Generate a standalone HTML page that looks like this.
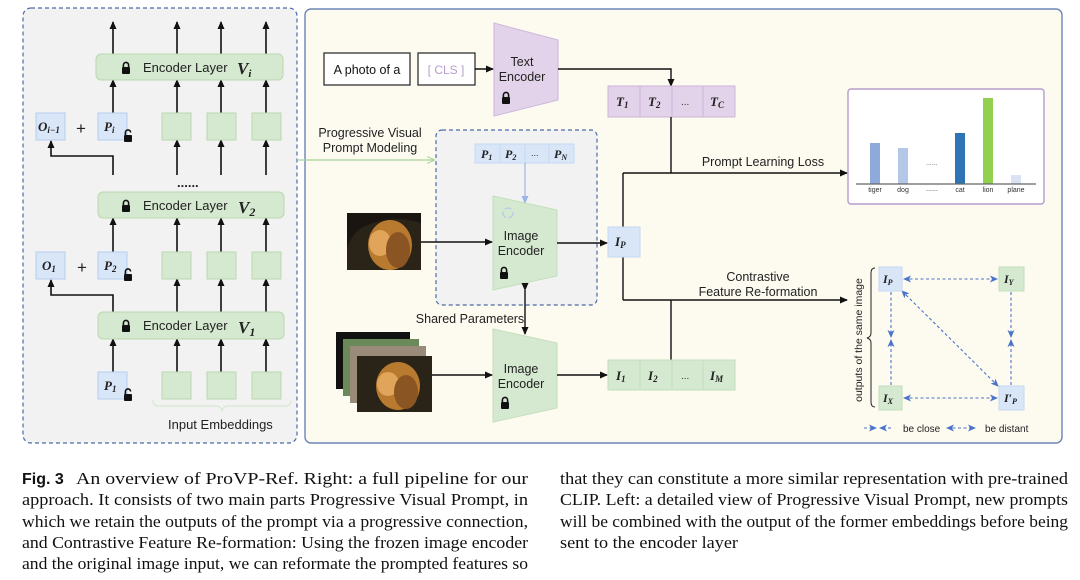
<!DOCTYPE html>
<html><head><meta charset="utf-8"><style>
html,body{margin:0;padding:0;background:#fff;}
svg{display:block;font-family:"Liberation Sans",sans-serif;}
.it{font-family:"Liberation Serif",serif;font-style:italic;font-weight:bold;}
.cap{font-family:"Liberation Serif",serif;font-size:17px;fill:#111;}
</style></head><body>
<svg width="1080" height="580" viewBox="0 0 1080 580" xmlns="http://www.w3.org/2000/svg">
<defs>
<marker id="a" markerWidth="8" markerHeight="8" refX="7" refY="4" orient="auto" markerUnits="userSpaceOnUse"><path d="M0,0.5 L8,4 L0,7.5 Z" fill="#111"/></marker>
<marker id="ab" markerWidth="8" markerHeight="8" refX="7" refY="4" orient="auto" markerUnits="userSpaceOnUse"><path d="M0,0.5 L8,4 L0,7.5 Z" fill="#9bb5e6"/></marker>
<marker id="ad" markerWidth="8" markerHeight="8" refX="7" refY="4" orient="auto-start-reverse" markerUnits="userSpaceOnUse"><path d="M0,0.5 L8,4 L0,7.5 L2,4 Z" fill="#4a74c9"/></marker>
<marker id="ag" markerWidth="8" markerHeight="8" refX="7" refY="4" orient="auto" markerUnits="userSpaceOnUse"><path d="M0,0.5 L8,4 L0,7.5" fill="none" stroke="#a6d49a"/></marker>
<g id="lock"><rect x="-4" y="-1" width="8" height="7" rx="1" fill="#111"/><path d="M-2.6,-1 v-2 a2.6,2.6 0 0 1 5.2,0 v2" fill="none" stroke="#111" stroke-width="1.6"/></g>
<g id="ulock"><rect x="-4" y="-1" width="8" height="7" rx="1" fill="#111"/><path d="M-2.6,-1 v-2.5 a2.6,2.6 0 0 1 5.2,0" fill="none" stroke="#111" stroke-width="1.6"/></g>
</defs>

<!-- LEFT PANEL -->
<rect x="23" y="8" width="274" height="435" rx="8" fill="#f2f2f2" stroke="#4c6ba8" stroke-dasharray="4,3" stroke-width="1.2"/>
<g stroke="#111" stroke-width="1.6" fill="none" marker-end="url(#a)">
<line x1="113" y1="54" x2="113" y2="22"/><line x1="177" y1="54" x2="177" y2="22"/><line x1="221" y1="54" x2="221" y2="22"/><line x1="266" y1="54" x2="266" y2="22"/>
<line x1="113" y1="113" x2="113" y2="80"/><line x1="177" y1="113" x2="177" y2="80"/><line x1="221" y1="113" x2="221" y2="80"/><line x1="266" y1="113" x2="266" y2="80"/>
<line x1="177" y1="175" x2="177" y2="140"/><line x1="221" y1="175" x2="221" y2="140"/><line x1="266" y1="175" x2="266" y2="140"/>
<line x1="113" y1="252" x2="113" y2="218"/><line x1="177" y1="252" x2="177" y2="218"/><line x1="221" y1="252" x2="221" y2="218"/><line x1="266" y1="252" x2="266" y2="218"/>
<line x1="177" y1="312" x2="177" y2="279"/><line x1="221" y1="312" x2="221" y2="279"/><line x1="266" y1="312" x2="266" y2="279"/>
<line x1="113" y1="372" x2="113" y2="339"/><line x1="177" y1="372" x2="177" y2="339"/><line x1="221" y1="372" x2="221" y2="339"/><line x1="266" y1="372" x2="266" y2="339"/>
<polyline points="113,175 113,156 51,156 51,141"/>
<polyline points="113,312 113,295 51,295 51,280"/>
</g>
<g fill="#d5e8d0" stroke="#b9d8b0">
<rect x="96" y="54" width="187" height="26" rx="5"/>
<rect x="98" y="192" width="186" height="26" rx="5"/>
<rect x="98" y="312" width="186" height="27" rx="5"/>
<rect x="162" y="113" width="29" height="27"/><rect x="207" y="113" width="29" height="27"/><rect x="252" y="113" width="29" height="27"/>
<rect x="162" y="252" width="29" height="27"/><rect x="207" y="252" width="29" height="27"/><rect x="252" y="252" width="29" height="27"/>
<rect x="162" y="372" width="29" height="27"/><rect x="207" y="372" width="29" height="27"/><rect x="252" y="372" width="29" height="27"/>
</g>
<g fill="#d8e6f8" stroke="#b6cdef">
<rect x="36" y="113" width="29" height="27"/><rect x="98" y="113" width="29" height="27"/>
<rect x="36" y="252" width="29" height="27"/><rect x="98" y="252" width="29" height="27"/>
<rect x="98" y="372" width="29" height="27"/>
</g>
<g font-size="13" fill="#222">
<use href="#lock" x="126" y="68"/><text x="143" y="72">Encoder Layer</text><text x="237" y="74" class="it" font-size="17">V<tspan font-size="11" dy="3">i</tspan></text>
<use href="#lock" x="126" y="206"/><text x="143" y="210">Encoder Layer</text><text x="238" y="213" class="it" font-size="17">V<tspan font-size="12" dy="3">2</tspan></text>
<use href="#lock" x="126" y="326"/><text x="143" y="330">Encoder Layer</text><text x="238" y="333" class="it" font-size="17">V<tspan font-size="12" dy="3">1</tspan></text>
</g>
<g class="it" font-size="13" fill="#222">
<text x="38" y="131">O<tspan font-size="9" dy="2">i−1</tspan></text>
<text x="104" y="131">P<tspan font-size="9" dy="2">i</tspan></text>
<text x="42" y="270">O<tspan font-size="9" dy="2">1</tspan></text>
<text x="104" y="270">P<tspan font-size="9" dy="2">2</tspan></text>
<text x="104" y="390">P<tspan font-size="9" dy="2">1</tspan></text>
</g>
<g font-size="17" fill="#222"><text x="76" y="134">+</text><text x="77" y="273">+</text></g>
<use href="#ulock" x="128" y="136"/><use href="#ulock" x="128" y="275"/><use href="#ulock" x="128" y="395"/>
<text x="177" y="187" font-size="13" font-weight="bold" fill="#222">......</text>
<path d="M153,400 q0,6 6,6 h57 q5,0 6,5 q1,-5 6,-5 h57 q6,0 6,-6" fill="none" stroke="#d5e8d0" stroke-width="1.2"/>
<text x="168" y="429" font-size="13" fill="#222">Input Embeddings</text>

<!-- RIGHT PANEL -->
<rect x="305" y="9" width="757" height="434" rx="6" fill="#fdfaf0" stroke="#6b86b5" stroke-width="1.4"/>
<rect x="324" y="53" width="86" height="32" fill="#fff" stroke="#222" stroke-width="1.2"/>
<text x="367" y="74" font-size="12.5" text-anchor="middle" fill="#111">A photo of a</text>
<rect x="418" y="53" width="57" height="32" fill="#fff" stroke="#222" stroke-width="1.2"/>
<text x="446" y="74" font-size="12" text-anchor="middle" fill="#b69ccc">[ CLS ]</text>
<line x1="475" y1="69" x2="493" y2="69" stroke="#111" stroke-width="1.4" marker-end="url(#a)"/>
<polygon points="494,23 558,40 558,100 494,116" fill="#e3d3ea" stroke="#cdb6db"/>
<text x="522" y="66" font-size="12.5" text-anchor="middle" fill="#222">Text</text>
<text x="522" y="81" font-size="12.5" text-anchor="middle" fill="#222">Encoder</text>
<use href="#lock" x="506" y="98"/>
<polyline points="558,69 671,69 671,86" fill="none" stroke="#111" stroke-width="1.4" marker-end="url(#a)"/>
<g fill="#e3d3ea" stroke="#cdb6db"><rect x="608" y="86" width="32" height="31"/><rect x="640" y="86" width="32" height="31"/><rect x="672" y="86" width="31" height="31"/><rect x="703" y="86" width="32" height="31"/></g>
<g class="it" font-size="13" fill="#222"><text x="616" y="106">T<tspan font-size="9" dy="2">1</tspan></text><text x="648" y="106">T<tspan font-size="9" dy="2">2</tspan></text><text x="710" y="106">T<tspan font-size="9" dy="2">C</tspan></text></g>
<text x="681" y="105" font-size="10" fill="#333">...</text>

<g stroke="#111" stroke-width="1.4" fill="none">
<line x1="671" y1="117" x2="671" y2="173"/>
<line x1="623" y1="173" x2="847" y2="173" marker-end="url(#a)"/>
<line x1="623" y1="173" x2="623" y2="227"/>
<line x1="623" y1="257" x2="623" y2="300"/>
<line x1="623" y1="300" x2="847" y2="300" marker-end="url(#a)"/>
<line x1="671" y1="300" x2="671" y2="360"/>
</g>
<text x="763" y="166" font-size="12.5" text-anchor="middle" fill="#222">Prompt Learning Loss</text>
<text x="758" y="281" font-size="12.5" text-anchor="middle" fill="#222">Contrastive</text>
<text x="758" y="296" font-size="12.5" text-anchor="middle" fill="#222">Feature Re-formation</text>

<!-- chart -->
<rect x="848" y="89" width="196" height="115" rx="3" fill="#fff" stroke="#b79ccc" stroke-width="1.4"/>
<rect x="870" y="143" width="10" height="41" fill="#8eaadb"/>
<rect x="898" y="148" width="10" height="36" fill="#b4c7e7"/>
<rect x="955" y="133" width="10" height="51" fill="#2e75b6"/>
<rect x="983" y="98" width="10" height="86" fill="#92d050"/>
<rect x="1011" y="175" width="10" height="9" fill="#dae3f3"/>
<line x1="856" y1="184" x2="1036" y2="184" stroke="#666" stroke-width="1.2"/>
<text x="926" y="165" font-size="7" fill="#555">......</text>
<g font-size="7" fill="#333" text-anchor="middle"><text x="875" y="192">tiger</text><text x="903" y="192">dog</text><text x="932" y="191">......</text><text x="960" y="192">cat</text><text x="988" y="192">lion</text><text x="1016" y="192">plane</text></g>

<!-- contrast diagram -->
<g stroke="#4a74c9" stroke-width="1.1" stroke-dasharray="3,2.5" fill="none">
<line x1="904" y1="279" x2="997" y2="279" marker-start="url(#ad)" marker-end="url(#ad)"/>
<line x1="904" y1="398" x2="997" y2="398" marker-start="url(#ad)" marker-end="url(#ad)"/>
<line x1="902" y1="291" x2="998" y2="386" marker-start="url(#ad)" marker-end="url(#ad)"/>
<line x1="891" y1="292" x2="891" y2="337" marker-end="url(#ad)"/>
<line x1="891" y1="385" x2="891" y2="340" marker-end="url(#ad)"/>
<line x1="1011" y1="292" x2="1011" y2="337" marker-end="url(#ad)"/>
<line x1="1011" y1="385" x2="1011" y2="340" marker-end="url(#ad)"/>
</g>
<rect x="879" y="267" width="23" height="24" fill="#d8e6f8" stroke="#c6d8f2"/>
<rect x="999" y="267" width="25" height="24" fill="#d5e8d0" stroke="#c4dfbb"/>
<rect x="879" y="386" width="23" height="24" fill="#d5e8d0" stroke="#c4dfbb"/>
<rect x="999" y="386" width="25" height="24" fill="#d8e6f8" stroke="#c6d8f2"/>
<g class="it" font-size="12" fill="#222"><text x="883" y="283">I<tspan font-size="8" dy="2">P</tspan></text><text x="1004" y="283">I<tspan font-size="8" dy="2">Y</tspan></text><text x="883" y="402">I<tspan font-size="8" dy="2">X</tspan></text><text x="1004" y="402">I′<tspan font-size="8" dy="2">P</tspan></text></g>
<path d="M875,268 q-4,0 -4,5 v60 q0,4 -4,5 q4,1 4,5 v59 q0,5 4,5" fill="none" stroke="#222" stroke-width="1"/>
<text transform="translate(862,340) rotate(-90)" font-size="10.5" text-anchor="middle" fill="#222">outputs of the same image</text>
<g stroke="#4a74c9" stroke-width="1.1" stroke-dasharray="3,2.5" fill="none">
<line x1="864" y1="428" x2="876" y2="428" marker-end="url(#ad)"/><line x1="891" y1="428" x2="880" y2="428" marker-end="url(#ad)"/>
<line x1="947" y1="428" x2="975" y2="428" marker-start="url(#ad)" marker-end="url(#ad)"/>
</g>
<text x="903" y="432" font-size="10" fill="#222">be close</text>
<text x="985" y="432" font-size="10" fill="#222">be distant</text>

<!-- progressive box -->
<line x1="297" y1="160" x2="434" y2="160" stroke="#a6d49a" stroke-width="1.2" marker-end="url(#ag)"/>
<text x="370" y="137" font-size="12.5" text-anchor="middle" fill="#222">Progressive Visual</text>
<text x="370" y="152" font-size="12.5" text-anchor="middle" fill="#222">Prompt Modeling</text>
<rect x="436" y="130" width="161" height="175" rx="6" fill="#f2f2f2" stroke="#4c6ba8" stroke-dasharray="4,3" stroke-width="1.2"/>
<g fill="#d8e6f8" stroke="#c6d8f2"><rect x="475" y="144" width="25" height="19"/><rect x="500" y="144" width="25" height="19"/><rect x="525" y="144" width="24" height="19"/><rect x="549" y="144" width="25" height="19"/></g>
<g class="it" font-size="12" fill="#222"><text x="481" y="158">P<tspan font-size="8" dy="2">1</tspan></text><text x="505" y="158">P<tspan font-size="8" dy="2">2</tspan></text><text x="554" y="158">P<tspan font-size="8" dy="2">N</tspan></text></g>
<text x="531" y="156" font-size="9" fill="#333">...</text>
<line x1="525" y1="163" x2="525" y2="203" stroke="#9bb5e6" stroke-width="1.2" marker-end="url(#ab)"/>
<polygon points="493,196 557,210 557,276 493,290" fill="#d5e8d0" stroke="#c4dfbb"/>
<circle cx="508" cy="213" r="5" fill="none" stroke="#b3c9ee" stroke-width="1.3" stroke-dasharray="7,3"/>
<text x="521" y="240" font-size="12.5" text-anchor="middle" fill="#222">Image</text>
<text x="521" y="255" font-size="12.5" text-anchor="middle" fill="#222">Encoder</text>
<use href="#lock" x="504" y="273"/>
<!-- lion image -->
<g>
<rect x="347" y="213" width="74" height="57" fill="#2a2318"/>
<path d="M347,213 h74 v10 q-30,-10 -60,5 q-10,8 -14,20 z" fill="#1a1510"/>
<ellipse cx="390" cy="245" rx="22" ry="25" fill="#b87a2e"/>
<ellipse cx="380" cy="243" rx="11" ry="13" fill="#e0a55a"/>
<ellipse cx="398" cy="250" rx="12" ry="18" fill="#8a5522"/>
</g>
<line x1="421" y1="242" x2="492" y2="242" stroke="#111" stroke-width="1.4" marker-end="url(#a)"/>
<line x1="557" y1="243" x2="607" y2="243" stroke="#111" stroke-width="1.4" marker-end="url(#a)"/>
<rect x="608" y="227" width="32" height="30" fill="#d8e6f8" stroke="#c6d8f2"/>
<text x="615" y="246" class="it" font-size="13" fill="#222">I<tspan font-size="9" dy="2">P</tspan></text>

<text x="470" y="323" font-size="12.5" text-anchor="middle" fill="#222">Shared Parameters</text>
<line x1="525" y1="290" x2="525" y2="334" stroke="#111" stroke-width="1.4" marker-start="url(#a)" marker-end="url(#a)"/>
<polygon points="493,329 557,343 557,408 493,422" fill="#d5e8d0" stroke="#c4dfbb"/>
<text x="521" y="373" font-size="12.5" text-anchor="middle" fill="#222">Image</text>
<text x="521" y="388" font-size="12.5" text-anchor="middle" fill="#222">Encoder</text>
<use href="#lock" x="505" y="403"/>
<!-- stacked images -->
<rect x="336" y="332" width="74" height="57" fill="#111"/>
<rect x="343" y="339" width="76" height="57" fill="#6b8a5a"/>
<rect x="350" y="346" width="76" height="57" fill="#9a8a7a"/>
<rect x="357" y="356" width="75" height="56" fill="#2a2318"/>
<ellipse cx="398" cy="386" rx="22" ry="24" fill="#b87a2e"/>
<ellipse cx="388" cy="384" rx="11" ry="12" fill="#e0a55a"/>
<ellipse cx="406" cy="392" rx="12" ry="17" fill="#8a5522"/>
<line x1="432" y1="375" x2="492" y2="375" stroke="#111" stroke-width="1.4" marker-end="url(#a)"/>
<line x1="557" y1="375" x2="607" y2="375" stroke="#111" stroke-width="1.4" marker-end="url(#a)"/>
<g fill="#d5e8d0" stroke="#c4dfbb"><rect x="608" y="360" width="32" height="30"/><rect x="640" y="360" width="32" height="30"/><rect x="672" y="360" width="31" height="30"/><rect x="703" y="360" width="32" height="30"/></g>
<g class="it" font-size="13" fill="#222"><text x="616" y="380">I<tspan font-size="9" dy="2">1</tspan></text><text x="648" y="380">I<tspan font-size="9" dy="2">2</tspan></text><text x="710" y="380">I<tspan font-size="9" dy="2">M</tspan></text></g>
<text x="681" y="379" font-size="10" fill="#333">...</text>

<!-- caption -->
<text x="22" y="484" font-size="16" font-weight="bold" fill="#111">Fig. 3</text>
<text class="cap" x="76" y="484" textLength="452" lengthAdjust="spacingAndGlyphs">An overview of ProVP-Ref. Right: a full pipeline for our</text>
<text class="cap" x="22" y="505" textLength="506" lengthAdjust="spacingAndGlyphs">approach. It consists of two main parts Progressive Visual Prompt, in</text>
<text class="cap" x="22" y="527" textLength="506" lengthAdjust="spacingAndGlyphs">which we retain the outputs of the prompt via a progressive connection,</text>
<text class="cap" x="22" y="548" textLength="506" lengthAdjust="spacingAndGlyphs">and Contrastive Feature Re-formation: Using the frozen image encoder</text>
<text class="cap" x="22" y="569" textLength="506" lengthAdjust="spacingAndGlyphs">and the original image input, we can reformate the prompted features so</text>
<text class="cap" x="560" y="484" textLength="508" lengthAdjust="spacingAndGlyphs">that they can constitute a more similar representation with pre-trained</text>
<text class="cap" x="560" y="505" textLength="508" lengthAdjust="spacingAndGlyphs">CLIP. Left: a detailed view of Progressive Visual Prompt, new prompts</text>
<text class="cap" x="560" y="527" textLength="508" lengthAdjust="spacingAndGlyphs">will be combined with the output of the former embeddings before being</text>
<text class="cap" x="560" y="548" textLength="178" lengthAdjust="spacingAndGlyphs">sent to the encoder layer</text>
</svg>
</body></html>
